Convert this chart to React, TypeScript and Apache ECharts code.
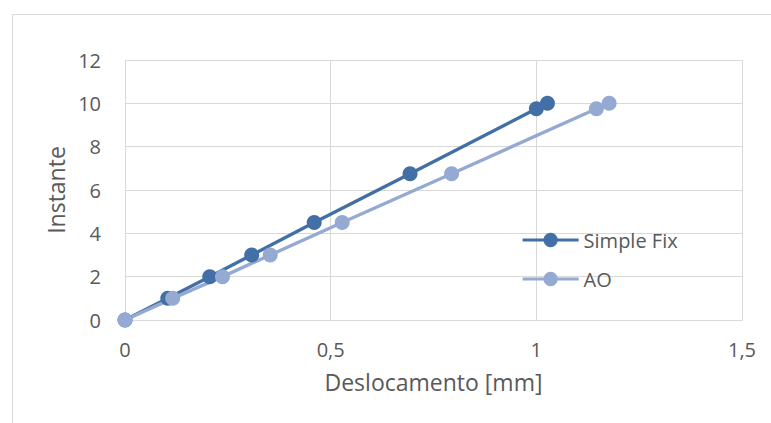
import React, { useEffect, useRef } from "react";
import * as echarts from "echarts";

const seriesNames = ["Simple Fix", "AO"];
const simpleFixX = [0, 0.104, 0.206, 0.308, 0.46, 0.693, 1.0, 1.027];
const simpleFixY = [0, 1, 2, 3, 4.5, 6.75, 9.75, 10];
const aoX = [0, 0.116, 0.237, 0.353, 0.528, 0.794, 1.146, 1.177];
const aoY = [0, 1, 2, 3, 4.5, 6.75, 9.75, 10];
const xAxisTitle = "Deslocamento [mm]";
const yAxisTitle = "Instante";

const FONT = '"Open Sans", "Noto Sans", sans-serif';
const TEXT = "#595959";
const GRID = "#d9d9d9";

export default function App() {
  const ref = useRef<HTMLDivElement>(null);
  useEffect(() => {
    if (!ref.current) return;
    const chart = echarts.init(ref.current, undefined, { renderer: "svg" });
    const pair = (xs: number[], ys: number[]) => xs.map((x, i) => [x, ys[i]]);
    chart.setOption({
      animation: false,
      backgroundColor: "#ffffff",
      textStyle: { fontFamily: FONT, color: TEXT },
      graphic: [
        {
          type: "rect",
          left: 10,
          top: 12,
          shape: { width: 800, height: 500 },
          style: { fill: "none", stroke: GRID, lineWidth: 1 },
          silent: true,
          z: -10,
        },
      ],
      grid: { left: 125, right: 29, top: 60, bottom: 103 },
      legend: {
        orient: "vertical",
        left: 516,
        top: 225,
        itemWidth: 56,
        itemHeight: 18,
        itemGap: 19,
        lineStyle: { width: 3.2 },
        textStyle: { fontFamily: FONT, fontSize: 20, color: TEXT },
        data: seriesNames,
      },
      xAxis: {
        type: "value",
        min: 0,
        max: 1.5,
        interval: 0.5,
        name: xAxisTitle,
        nameLocation: "middle",
        nameGap: 50,
        nameTextStyle: { fontFamily: FONT, fontSize: 23, color: TEXT },
        axisLine: { show: true, onZero: false, lineStyle: { color: GRID, width: 1 } },
        axisTick: { show: false },
        axisLabel: {
          fontFamily: FONT,
          fontSize: 20,
          color: TEXT,
          margin: 19,
          formatter: (v: number) => String(v).replace(".", ","),
        },
        splitLine: { show: true, lineStyle: { color: GRID, width: 1 } },
      },
      yAxis: {
        type: "value",
        min: 0,
        max: 12,
        interval: 2,
        name: yAxisTitle,
        nameLocation: "middle",
        nameGap: 57,
        nameTextStyle: { fontFamily: FONT, fontSize: 23, color: TEXT },
        axisLine: { show: false },
        axisTick: { show: false },
        axisLabel: { fontFamily: FONT, fontSize: 20, color: TEXT, margin: 24 },
        splitLine: { show: true, lineStyle: { color: GRID, width: 1 } },
      },
      series: [
        {
          name: seriesNames[0],
          type: "line",
          data: pair(simpleFixX, simpleFixY),
          symbol: "circle",
          symbolSize: 15,
          lineStyle: { color: "#4270a6", width: 3.4 },
          itemStyle: { color: "#4270a6" },
        },
        {
          name: seriesNames[1],
          type: "line",
          data: pair(aoX, aoY),
          symbol: "circle",
          symbolSize: 15,
          lineStyle: { color: "#95aad3", width: 3.4 },
          itemStyle: { color: "#95aad3" },
        },
      ],
    });
    return () => chart.dispose();
  }, []);
  return (
    <div
      ref={ref}
      style={{ position: "fixed", left: 0, top: 0, width: 771, height: 423 }}
    />
  );
}
